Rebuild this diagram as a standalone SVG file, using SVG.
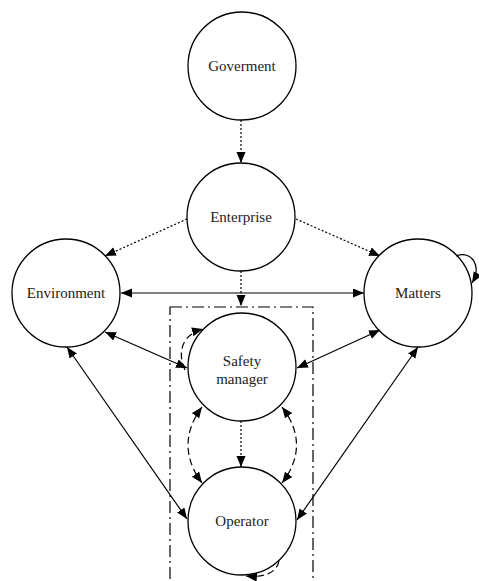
<svg xmlns="http://www.w3.org/2000/svg" width="479" height="581" viewBox="0 0 479 581">
<style>
.node circle{fill:#fff;stroke:#000;stroke-width:1.3}
.node text{font-family:'Liberation Serif','DejaVu Serif','Times New Roman',serif;font-size:15px;fill:#222;text-anchor:middle}
.c{fill:none;stroke:#000;stroke-width:1.2}
.dot{stroke-dasharray:2,2}
.dash{stroke-dasharray:7,4}
.box{fill:none;stroke:#000;stroke-width:1.2;stroke-dasharray:12,4,2,4}
</style>
<defs>
<marker id="ah" markerUnits="userSpaceOnUse" markerWidth="12" markerHeight="10" refX="11" refY="4.5" orient="auto-start-reverse" viewBox="0 0 12 10">
<path d="M0,0 L11,4.5 L0,9 z" fill="#000"/>
</marker>
</defs>
<rect class="box" x="170" y="307" width="143" height="290"/>
<g id="goverment" class="node"><circle cx="242" cy="66" r="54"/><text x="242" y="71" font-family="Liberation Serif, serif">Goverment</text></g>
<g id="enterprise" class="node"><circle cx="241" cy="217" r="54"/><text x="241" y="222" font-family="Liberation Serif, serif">Enterprise</text></g>
<g id="environment" class="node"><circle cx="66" cy="293" r="54"/><text x="66" y="298" font-family="Liberation Serif, serif">Environment</text></g>
<g id="matters" class="node"><circle cx="418" cy="293" r="54"/><text x="418" y="298" font-family="Liberation Serif, serif">Matters</text></g>
<g id="safety-manager" class="node"><circle cx="242" cy="367" r="54"/><text x="242" y="366" font-family="Liberation Serif, serif">Safety</text><text x="242" y="384" font-family="Liberation Serif, serif">manager</text></g>
<g id="operator" class="node"><circle cx="242" cy="521" r="54"/><text x="242" y="526" font-family="Liberation Serif, serif">Operator</text></g>
<g id="connectors">
<line class="c dot" x1="241" y1="120" x2="241" y2="163" marker-end="url(#ah)"/>
<line class="c dot" x1="187" y1="219" x2="105" y2="256" marker-end="url(#ah)"/>
<line class="c dot" x1="296" y1="219" x2="380" y2="256" marker-end="url(#ah)"/>
<line class="c dot" x1="241" y1="271" x2="241" y2="306" marker-end="url(#ah)"/>
<line class="c dot" x1="241" y1="421" x2="241" y2="467" marker-end="url(#ah)"/>
<line class="c" x1="121" y1="293" x2="364" y2="293" marker-start="url(#ah)" marker-end="url(#ah)"/>
<line class="c" x1="105" y1="332" x2="187" y2="368" marker-start="url(#ah)" marker-end="url(#ah)"/>
<line class="c" x1="67" y1="347" x2="187" y2="519" marker-start="url(#ah)" marker-end="url(#ah)"/>
<line class="c" x1="380" y1="330" x2="297" y2="368" marker-start="url(#ah)" marker-end="url(#ah)"/>
<line class="c" x1="418" y1="347" x2="297" y2="520" marker-start="url(#ah)" marker-end="url(#ah)"/>
<path class="c dash" d="M202,407 Q174,445 202,483" marker-start="url(#ah)" marker-end="url(#ah)"/>
<path class="c dash" d="M282,407 Q311,445 282,483" marker-start="url(#ah)" marker-end="url(#ah)"/>
<path class="c dash" d="M185,370 C176,350 184,334 203,329" marker-end="url(#ah)"/>
<path class="c" d="M456,256 C472,250 482,266 472,283" marker-end="url(#ah)"/>
<path class="c dash" d="M279,561 C277,572 265,578 246,576" marker-end="url(#ah)"/>
</g>
</svg>
